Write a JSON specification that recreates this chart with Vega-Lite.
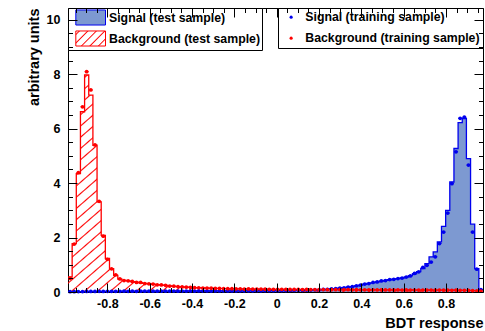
{
"$schema":"https://vega.github.io/schema/vega-lite/v6.json",
"width":415,"height":284,"autosize":"none",
"padding":{"left":68,"top":8,"right":2,"bottom":39},
"background":"#ffffff",
"config":{
 "view":{"stroke":"#000","strokeWidth":1},
 "axis":{"domain":false,"grid":false,"labelFont":"Liberation Sans","labelFontWeight":"bold","labelFontSize":12.5,"labelColor":"#000","tickColor":"#000","tickWidth":1,"titleFont":"Liberation Sans","titleFontWeight":"bold","titleFontSize":14.5,"titleColor":"#000"},
 "legend":{"labelFont":"Liberation Sans","labelFontWeight":"bold","labelFontSize":12.3,"labelColor":"#000","strokeColor":"#000","fillColor":"#fff","offset":0,"labelLimit":300}
},
"data":{"values":[
{"s":"S","lo":-0.986,"hi":-0.9664,"c":-0.9762,"v":0.008,"t":0.01},
{"s":"S","lo":-0.9664,"hi":-0.9468,"c":-0.9566,"v":0.012,"t":0.011},
{"s":"S","lo":-0.9468,"hi":-0.9272,"c":-0.937,"v":0.015,"t":0.016},
{"s":"S","lo":-0.9272,"hi":-0.9076,"c":-0.9174,"v":0.017,"t":0.015},
{"s":"S","lo":-0.9076,"hi":-0.888,"c":-0.8978,"v":0.018,"t":0.019},
{"s":"S","lo":-0.888,"hi":-0.8683,"c":-0.8782,"v":0.02,"t":0.021},
{"s":"S","lo":-0.8683,"hi":-0.8487,"c":-0.8585,"v":0.021,"t":0.02},
{"s":"S","lo":-0.8487,"hi":-0.8291,"c":-0.8389,"v":0.022,"t":0.023},
{"s":"S","lo":-0.8291,"hi":-0.8095,"c":-0.8193,"v":0.023,"t":0.022},
{"s":"S","lo":-0.8095,"hi":-0.7899,"c":-0.7997,"v":0.024,"t":0.025},
{"s":"S","lo":-0.7899,"hi":-0.7703,"c":-0.7801,"v":0.025,"t":0.024},
{"s":"S","lo":-0.7703,"hi":-0.7507,"c":-0.7605,"v":0.026,"t":0.027},
{"s":"S","lo":-0.7507,"hi":-0.7311,"c":-0.7409,"v":0.026,"t":0.025},
{"s":"S","lo":-0.7311,"hi":-0.7115,"c":-0.7213,"v":0.027,"t":0.028},
{"s":"S","lo":-0.7115,"hi":-0.6919,"c":-0.7017,"v":0.027,"t":0.026},
{"s":"S","lo":-0.6919,"hi":-0.6722,"c":-0.6821,"v":0.028,"t":0.029},
{"s":"S","lo":-0.6722,"hi":-0.6526,"c":-0.6624,"v":0.028,"t":0.027},
{"s":"S","lo":-0.6526,"hi":-0.633,"c":-0.6428,"v":0.029,"t":0.03},
{"s":"S","lo":-0.633,"hi":-0.6134,"c":-0.6232,"v":0.029,"t":0.028},
{"s":"S","lo":-0.6134,"hi":-0.5938,"c":-0.6036,"v":0.03,"t":0.031},
{"s":"S","lo":-0.5938,"hi":-0.5742,"c":-0.584,"v":0.03,"t":0.029},
{"s":"S","lo":-0.5742,"hi":-0.5546,"c":-0.5644,"v":0.031,"t":0.032},
{"s":"S","lo":-0.5546,"hi":-0.535,"c":-0.5448,"v":0.031,"t":0.03},
{"s":"S","lo":-0.535,"hi":-0.5154,"c":-0.5252,"v":0.032,"t":0.033},
{"s":"S","lo":-0.5154,"hi":-0.4958,"c":-0.5056,"v":0.032,"t":0.031},
{"s":"S","lo":-0.4958,"hi":-0.4761,"c":-0.486,"v":0.033,"t":0.034},
{"s":"S","lo":-0.4761,"hi":-0.4565,"c":-0.4663,"v":0.033,"t":0.032},
{"s":"S","lo":-0.4565,"hi":-0.4369,"c":-0.4467,"v":0.034,"t":0.035},
{"s":"S","lo":-0.4369,"hi":-0.4173,"c":-0.4271,"v":0.034,"t":0.033},
{"s":"S","lo":-0.4173,"hi":-0.3977,"c":-0.4075,"v":0.035,"t":0.036},
{"s":"S","lo":-0.3977,"hi":-0.3781,"c":-0.3879,"v":0.035,"t":0.034},
{"s":"S","lo":-0.3781,"hi":-0.3585,"c":-0.3683,"v":0.036,"t":0.037},
{"s":"S","lo":-0.3585,"hi":-0.3389,"c":-0.3487,"v":0.036,"t":0.035},
{"s":"S","lo":-0.3389,"hi":-0.3193,"c":-0.3291,"v":0.037,"t":0.038},
{"s":"S","lo":-0.3193,"hi":-0.2997,"c":-0.3095,"v":0.037,"t":0.036},
{"s":"S","lo":-0.2997,"hi":-0.28,"c":-0.2899,"v":0.038,"t":0.039},
{"s":"S","lo":-0.28,"hi":-0.2604,"c":-0.2702,"v":0.038,"t":0.037},
{"s":"S","lo":-0.2604,"hi":-0.2408,"c":-0.2506,"v":0.039,"t":0.04},
{"s":"S","lo":-0.2408,"hi":-0.2212,"c":-0.231,"v":0.039,"t":0.038},
{"s":"S","lo":-0.2212,"hi":-0.2016,"c":-0.2114,"v":0.04,"t":0.041},
{"s":"S","lo":-0.2016,"hi":-0.182,"c":-0.1918,"v":0.04,"t":0.039},
{"s":"S","lo":-0.182,"hi":-0.1624,"c":-0.1722,"v":0.041,"t":0.042},
{"s":"S","lo":-0.1624,"hi":-0.1428,"c":-0.1526,"v":0.042,"t":0.041},
{"s":"S","lo":-0.1428,"hi":-0.1232,"c":-0.133,"v":0.043,"t":0.044},
{"s":"S","lo":-0.1232,"hi":-0.1036,"c":-0.1134,"v":0.044,"t":0.043},
{"s":"S","lo":-0.1036,"hi":-0.0839,"c":-0.0938,"v":0.045,"t":0.046},
{"s":"S","lo":-0.0839,"hi":-0.0643,"c":-0.0741,"v":0.046,"t":0.045},
{"s":"S","lo":-0.0643,"hi":-0.0447,"c":-0.0545,"v":0.047,"t":0.048},
{"s":"S","lo":-0.0447,"hi":-0.0251,"c":-0.0349,"v":0.048,"t":0.047},
{"s":"S","lo":-0.0251,"hi":-0.0055,"c":-0.0153,"v":0.049,"t":0.05},
{"s":"S","lo":-0.0055,"hi":0.0141,"c":0.0043,"v":0.05,"t":0.049},
{"s":"S","lo":0.0141,"hi":0.0337,"c":0.0239,"v":0.052,"t":0.053},
{"s":"S","lo":0.0337,"hi":0.0533,"c":0.0435,"v":0.054,"t":0.053},
{"s":"S","lo":0.0533,"hi":0.0729,"c":0.0631,"v":0.056,"t":0.057},
{"s":"S","lo":0.0729,"hi":0.0925,"c":0.0827,"v":0.058,"t":0.057},
{"s":"S","lo":0.0925,"hi":0.1122,"c":0.1023,"v":0.061,"t":0.062},
{"s":"S","lo":0.1122,"hi":0.1318,"c":0.122,"v":0.064,"t":0.063},
{"s":"S","lo":0.1318,"hi":0.1514,"c":0.1416,"v":0.068,"t":0.069},
{"s":"S","lo":0.1514,"hi":0.171,"c":0.1612,"v":0.072,"t":0.071},
{"s":"S","lo":0.171,"hi":0.1906,"c":0.1808,"v":0.077,"t":0.079},
{"s":"S","lo":0.1906,"hi":0.2102,"c":0.2004,"v":0.083,"t":0.082},
{"s":"S","lo":0.2102,"hi":0.2298,"c":0.22,"v":0.09,"t":0.092},
{"s":"S","lo":0.2298,"hi":0.2494,"c":0.2396,"v":0.1,"t":0.098},
{"s":"S","lo":0.2494,"hi":0.269,"c":0.2592,"v":0.112,"t":0.114},
{"s":"S","lo":0.269,"hi":0.2886,"c":0.2788,"v":0.125,"t":0.123},
{"s":"S","lo":0.2886,"hi":0.3083,"c":0.2984,"v":0.14,"t":0.143},
{"s":"S","lo":0.3083,"hi":0.3279,"c":0.3181,"v":0.158,"t":0.155},
{"s":"S","lo":0.3279,"hi":0.3475,"c":0.3377,"v":0.178,"t":0.181},
{"s":"S","lo":0.3475,"hi":0.3671,"c":0.3573,"v":0.2,"t":0.197},
{"s":"S","lo":0.3671,"hi":0.3867,"c":0.3769,"v":0.225,"t":0.229},
{"s":"S","lo":0.3867,"hi":0.4063,"c":0.3965,"v":0.255,"t":0.25},
{"s":"S","lo":0.4063,"hi":0.4259,"c":0.4161,"v":0.285,"t":0.29},
{"s":"S","lo":0.4259,"hi":0.4455,"c":0.4357,"v":0.315,"t":0.31},
{"s":"S","lo":0.4455,"hi":0.4651,"c":0.4553,"v":0.345,"t":0.352},
{"s":"S","lo":0.4651,"hi":0.4848,"c":0.4749,"v":0.375,"t":0.37},
{"s":"S","lo":0.4848,"hi":0.5044,"c":0.4946,"v":0.4,"t":0.405},
{"s":"S","lo":0.5044,"hi":0.524,"c":0.5142,"v":0.425,"t":0.42},
{"s":"S","lo":0.524,"hi":0.5436,"c":0.5338,"v":0.45,"t":0.455},
{"s":"S","lo":0.5436,"hi":0.5632,"c":0.5534,"v":0.47,"t":0.465},
{"s":"S","lo":0.5632,"hi":0.5828,"c":0.573,"v":0.49,"t":0.495},
{"s":"S","lo":0.5828,"hi":0.6024,"c":0.5926,"v":0.515,"t":0.51},
{"s":"S","lo":0.6024,"hi":0.622,"c":0.6122,"v":0.545,"t":0.55},
{"s":"S","lo":0.622,"hi":0.6416,"c":0.6318,"v":0.6,"t":0.59},
{"s":"S","lo":0.6416,"hi":0.6612,"c":0.6514,"v":0.67,"t":0.68},
{"s":"S","lo":0.6612,"hi":0.6809,"c":0.671,"v":0.75,"t":0.74},
{"s":"S","lo":0.6809,"hi":0.7005,"c":0.6907,"v":0.86,"t":0.9},
{"s":"S","lo":0.7005,"hi":0.7201,"c":0.7103,"v":1.04,"t":0.98},
{"s":"S","lo":0.7201,"hi":0.7397,"c":0.7299,"v":1.29,"t":1.1},
{"s":"S","lo":0.7397,"hi":0.7593,"c":0.7495,"v":1.47,"t":1.29},
{"s":"S","lo":0.7593,"hi":0.7789,"c":0.7691,"v":1.84,"t":1.78},
{"s":"S","lo":0.7789,"hi":0.7985,"c":0.7887,"v":2.41,"t":2.2},
{"s":"S","lo":0.7985,"hi":0.8181,"c":0.8083,"v":3.0,"t":2.9},
{"s":"S","lo":0.8181,"hi":0.8377,"c":0.8279,"v":4.04,"t":3.98},
{"s":"S","lo":0.8377,"hi":0.8573,"c":0.8475,"v":5.27,"t":5.15},
{"s":"S","lo":0.8573,"hi":0.877,"c":0.8671,"v":6.22,"t":6.38},
{"s":"S","lo":0.877,"hi":0.8966,"c":0.8868,"v":6.37,"t":6.42},
{"s":"S","lo":0.8966,"hi":0.9162,"c":0.9064,"v":4.9,"t":4.66},
{"s":"S","lo":0.9162,"hi":0.9358,"c":0.926,"v":2.49,"t":2.2},
{"s":"S","lo":0.9358,"hi":0.9554,"c":0.9456,"v":0.86,"t":0.84},
{"s":"S","lo":0.9554,"hi":0.975,"c":0.9652,"v":0.1,"t":0.09},
{"s":"B","lo":-0.986,"hi":-0.9664,"c":-0.9762,"v":0.55,"t":0.5},
{"s":"B","lo":-0.9664,"hi":-0.9468,"c":-0.9566,"v":1.78,"t":1.76},
{"s":"B","lo":-0.9468,"hi":-0.9272,"c":-0.937,"v":4.35,"t":4.38},
{"s":"B","lo":-0.9272,"hi":-0.9076,"c":-0.9174,"v":6.62,"t":6.8},
{"s":"B","lo":-0.9076,"hi":-0.888,"c":-0.8978,"v":7.97,"t":8.09},
{"s":"B","lo":-0.888,"hi":-0.8683,"c":-0.8782,"v":7.23,"t":7.42},
{"s":"B","lo":-0.8683,"hi":-0.8487,"c":-0.8585,"v":5.39,"t":5.4},
{"s":"B","lo":-0.8487,"hi":-0.8291,"c":-0.8389,"v":3.31,"t":3.33},
{"s":"B","lo":-0.8291,"hi":-0.8095,"c":-0.8193,"v":2.08,"t":2.05},
{"s":"B","lo":-0.8095,"hi":-0.7899,"c":-0.7997,"v":1.23,"t":1.2},
{"s":"B","lo":-0.7899,"hi":-0.7703,"c":-0.7801,"v":0.86,"t":0.85},
{"s":"B","lo":-0.7703,"hi":-0.7507,"c":-0.7605,"v":0.61,"t":0.63},
{"s":"B","lo":-0.7507,"hi":-0.7311,"c":-0.7409,"v":0.47,"t":0.48},
{"s":"B","lo":-0.7311,"hi":-0.7115,"c":-0.7213,"v":0.43,"t":0.42},
{"s":"B","lo":-0.7115,"hi":-0.6919,"c":-0.7017,"v":0.41,"t":0.41},
{"s":"B","lo":-0.6919,"hi":-0.6722,"c":-0.6821,"v":0.38,"t":0.39},
{"s":"B","lo":-0.6722,"hi":-0.6526,"c":-0.6624,"v":0.36,"t":0.35},
{"s":"B","lo":-0.6526,"hi":-0.633,"c":-0.6428,"v":0.34,"t":0.35},
{"s":"B","lo":-0.633,"hi":-0.6134,"c":-0.6232,"v":0.32,"t":0.31},
{"s":"B","lo":-0.6134,"hi":-0.5938,"c":-0.6036,"v":0.3,"t":0.3},
{"s":"B","lo":-0.5938,"hi":-0.5742,"c":-0.584,"v":0.285,"t":0.29},
{"s":"B","lo":-0.5742,"hi":-0.5546,"c":-0.5644,"v":0.27,"t":0.265},
{"s":"B","lo":-0.5546,"hi":-0.535,"c":-0.5448,"v":0.255,"t":0.26},
{"s":"B","lo":-0.535,"hi":-0.5154,"c":-0.5252,"v":0.24,"t":0.245},
{"s":"B","lo":-0.5154,"hi":-0.4958,"c":-0.5056,"v":0.225,"t":0.22},
{"s":"B","lo":-0.4958,"hi":-0.4761,"c":-0.486,"v":0.21,"t":0.215},
{"s":"B","lo":-0.4761,"hi":-0.4565,"c":-0.4663,"v":0.2,"t":0.198},
{"s":"B","lo":-0.4565,"hi":-0.4369,"c":-0.4467,"v":0.19,"t":0.185},
{"s":"B","lo":-0.4369,"hi":-0.4173,"c":-0.4271,"v":0.18,"t":0.178},
{"s":"B","lo":-0.4173,"hi":-0.3977,"c":-0.4075,"v":0.17,"t":0.172},
{"s":"B","lo":-0.3977,"hi":-0.3781,"c":-0.3879,"v":0.162,"t":0.16},
{"s":"B","lo":-0.3781,"hi":-0.3585,"c":-0.3683,"v":0.155,"t":0.156},
{"s":"B","lo":-0.3585,"hi":-0.3389,"c":-0.3487,"v":0.15,"t":0.147},
{"s":"B","lo":-0.3389,"hi":-0.3193,"c":-0.3291,"v":0.145,"t":0.146},
{"s":"B","lo":-0.3193,"hi":-0.2997,"c":-0.3095,"v":0.14,"t":0.138},
{"s":"B","lo":-0.2997,"hi":-0.28,"c":-0.2899,"v":0.135,"t":0.136},
{"s":"B","lo":-0.28,"hi":-0.2604,"c":-0.2702,"v":0.131,"t":0.129},
{"s":"B","lo":-0.2604,"hi":-0.2408,"c":-0.2506,"v":0.127,"t":0.128},
{"s":"B","lo":-0.2408,"hi":-0.2212,"c":-0.231,"v":0.124,"t":0.122},
{"s":"B","lo":-0.2212,"hi":-0.2016,"c":-0.2114,"v":0.12,"t":0.121},
{"s":"B","lo":-0.2016,"hi":-0.182,"c":-0.1918,"v":0.117,"t":0.115},
{"s":"B","lo":-0.182,"hi":-0.1624,"c":-0.1722,"v":0.114,"t":0.116},
{"s":"B","lo":-0.1624,"hi":-0.1428,"c":-0.1526,"v":0.112,"t":0.11},
{"s":"B","lo":-0.1428,"hi":-0.1232,"c":-0.133,"v":0.11,"t":0.111},
{"s":"B","lo":-0.1232,"hi":-0.1036,"c":-0.1134,"v":0.108,"t":0.106},
{"s":"B","lo":-0.1036,"hi":-0.0839,"c":-0.0938,"v":0.106,"t":0.107},
{"s":"B","lo":-0.0839,"hi":-0.0643,"c":-0.0741,"v":0.104,"t":0.103},
{"s":"B","lo":-0.0643,"hi":-0.0447,"c":-0.0545,"v":0.102,"t":0.104},
{"s":"B","lo":-0.0447,"hi":-0.0251,"c":-0.0349,"v":0.1,"t":0.099},
{"s":"B","lo":-0.0251,"hi":-0.0055,"c":-0.0153,"v":0.099,"t":0.1},
{"s":"B","lo":-0.0055,"hi":0.0141,"c":0.0043,"v":0.098,"t":0.096},
{"s":"B","lo":0.0141,"hi":0.0337,"c":0.0239,"v":0.097,"t":0.098},
{"s":"B","lo":0.0337,"hi":0.0533,"c":0.0435,"v":0.096,"t":0.095},
{"s":"B","lo":0.0533,"hi":0.0729,"c":0.0631,"v":0.095,"t":0.096},
{"s":"B","lo":0.0729,"hi":0.0925,"c":0.0827,"v":0.094,"t":0.093},
{"s":"B","lo":0.0925,"hi":0.1122,"c":0.1023,"v":0.093,"t":0.094},
{"s":"B","lo":0.1122,"hi":0.1318,"c":0.122,"v":0.092,"t":0.09},
{"s":"B","lo":0.1318,"hi":0.1514,"c":0.1416,"v":0.091,"t":0.092},
{"s":"B","lo":0.1514,"hi":0.171,"c":0.1612,"v":0.09,"t":0.089},
{"s":"B","lo":0.171,"hi":0.1906,"c":0.1808,"v":0.09,"t":0.091},
{"s":"B","lo":0.1906,"hi":0.2102,"c":0.2004,"v":0.089,"t":0.088},
{"s":"B","lo":0.2102,"hi":0.2298,"c":0.22,"v":0.088,"t":0.089},
{"s":"B","lo":0.2298,"hi":0.2494,"c":0.2396,"v":0.087,"t":0.086},
{"s":"B","lo":0.2494,"hi":0.269,"c":0.2592,"v":0.086,"t":0.087},
{"s":"B","lo":0.269,"hi":0.2886,"c":0.2788,"v":0.086,"t":0.085},
{"s":"B","lo":0.2886,"hi":0.3083,"c":0.2984,"v":0.085,"t":0.086},
{"s":"B","lo":0.3083,"hi":0.3279,"c":0.3181,"v":0.084,"t":0.083},
{"s":"B","lo":0.3279,"hi":0.3475,"c":0.3377,"v":0.083,"t":0.084},
{"s":"B","lo":0.3475,"hi":0.3671,"c":0.3573,"v":0.083,"t":0.082},
{"s":"B","lo":0.3671,"hi":0.3867,"c":0.3769,"v":0.082,"t":0.083},
{"s":"B","lo":0.3867,"hi":0.4063,"c":0.3965,"v":0.081,"t":0.08},
{"s":"B","lo":0.4063,"hi":0.4259,"c":0.4161,"v":0.08,"t":0.081},
{"s":"B","lo":0.4259,"hi":0.4455,"c":0.4357,"v":0.08,"t":0.079},
{"s":"B","lo":0.4455,"hi":0.4651,"c":0.4553,"v":0.079,"t":0.08},
{"s":"B","lo":0.4651,"hi":0.4848,"c":0.4749,"v":0.078,"t":0.077},
{"s":"B","lo":0.4848,"hi":0.5044,"c":0.4946,"v":0.078,"t":0.079},
{"s":"B","lo":0.5044,"hi":0.524,"c":0.5142,"v":0.077,"t":0.076},
{"s":"B","lo":0.524,"hi":0.5436,"c":0.5338,"v":0.076,"t":0.077},
{"s":"B","lo":0.5436,"hi":0.5632,"c":0.5534,"v":0.076,"t":0.075},
{"s":"B","lo":0.5632,"hi":0.5828,"c":0.573,"v":0.075,"t":0.076},
{"s":"B","lo":0.5828,"hi":0.6024,"c":0.5926,"v":0.074,"t":0.073},
{"s":"B","lo":0.6024,"hi":0.622,"c":0.6122,"v":0.074,"t":0.075},
{"s":"B","lo":0.622,"hi":0.6416,"c":0.6318,"v":0.073,"t":0.072},
{"s":"B","lo":0.6416,"hi":0.6612,"c":0.6514,"v":0.072,"t":0.073},
{"s":"B","lo":0.6612,"hi":0.6809,"c":0.671,"v":0.072,"t":0.071},
{"s":"B","lo":0.6809,"hi":0.7005,"c":0.6907,"v":0.071,"t":0.072},
{"s":"B","lo":0.7005,"hi":0.7201,"c":0.7103,"v":0.07,"t":0.069},
{"s":"B","lo":0.7201,"hi":0.7397,"c":0.7299,"v":0.07,"t":0.071},
{"s":"B","lo":0.7397,"hi":0.7593,"c":0.7495,"v":0.069,"t":0.068},
{"s":"B","lo":0.7593,"hi":0.7789,"c":0.7691,"v":0.068,"t":0.069},
{"s":"B","lo":0.7789,"hi":0.7985,"c":0.7887,"v":0.067,"t":0.066},
{"s":"B","lo":0.7985,"hi":0.8181,"c":0.8083,"v":0.066,"t":0.067},
{"s":"B","lo":0.8181,"hi":0.8377,"c":0.8279,"v":0.065,"t":0.064},
{"s":"B","lo":0.8377,"hi":0.8573,"c":0.8475,"v":0.064,"t":0.065},
{"s":"B","lo":0.8573,"hi":0.877,"c":0.8671,"v":0.062,"t":0.061},
{"s":"B","lo":0.877,"hi":0.8966,"c":0.8868,"v":0.06,"t":0.061},
{"s":"B","lo":0.8966,"hi":0.9162,"c":0.9064,"v":0.057,"t":0.056},
{"s":"B","lo":0.9162,"hi":0.9358,"c":0.926,"v":0.053,"t":0.054},
{"s":"B","lo":0.9358,"hi":0.9554,"c":0.9456,"v":0.047,"t":0.046},
{"s":"B","lo":0.9554,"hi":0.975,"c":0.9652,"v":0.035,"t":0.036}
]},
"resolve":{"axis":{"x":"independent","y":"independent"}},
"layer":[
{"transform":[{"filter":"datum.s === 'S'"}],
 "mark":{"type":"area","interpolate":"step-after","fill":"#7d99d1"},
 "encoding":{
  "x":{"field":"lo","type":"quantitative","scale":{"domain":[-0.986,0.975],"nice":false,"zero":false},
   "axis":{"orient":"bottom","values":[-0.8,-0.6,-0.4,-0.2,0,0.2,0.4,0.6,0.8],"ticks":false,"labelExpr":"toString(datum.value)","labelPadding":5,"labelFlush":false,"title":"BDT response","titleAnchor":"end","titlePadding":7,"zindex":1}},
  "y":{"field":"v","type":"quantitative","stack":null,"scale":{"domain":[0,10.43],"nice":false,"zero":true},
   "axis":{"orient":"left","values":[0,2,4,6,8,10],"ticks":false,"labelPadding":8,"title":"arbitrary units","titleAnchor":"end","titlePadding":5,"zindex":1}}
 }},
{"transform":[{"filter":"datum.s === 'B'"}],
 "mark":{"type":"area","interpolate":"step-after","fill":{"gradient":"linear","x1":0,"y1":0,"x2":1.174,"y2":0.713,"stops":[
{"offset":0.0073,"color":"rgba(255,0,0,0)"},{"offset":0.0098,"color":"#ff0000"},{"offset":0.0123,"color":"rgba(255,0,0,0)"},
{"offset":0.0269,"color":"rgba(255,0,0,0)"},{"offset":0.0294,"color":"#ff0000"},{"offset":0.0319,"color":"rgba(255,0,0,0)"},
{"offset":0.0465,"color":"rgba(255,0,0,0)"},{"offset":0.049,"color":"#ff0000"},{"offset":0.0515,"color":"rgba(255,0,0,0)"},
{"offset":0.0661,"color":"rgba(255,0,0,0)"},{"offset":0.0686,"color":"#ff0000"},{"offset":0.0711,"color":"rgba(255,0,0,0)"},
{"offset":0.0857,"color":"rgba(255,0,0,0)"},{"offset":0.0882,"color":"#ff0000"},{"offset":0.0907,"color":"rgba(255,0,0,0)"},
{"offset":0.1053,"color":"rgba(255,0,0,0)"},{"offset":0.1078,"color":"#ff0000"},{"offset":0.1103,"color":"rgba(255,0,0,0)"},
{"offset":0.1249,"color":"rgba(255,0,0,0)"},{"offset":0.1274,"color":"#ff0000"},{"offset":0.1299,"color":"rgba(255,0,0,0)"},
{"offset":0.1445,"color":"rgba(255,0,0,0)"},{"offset":0.147,"color":"#ff0000"},{"offset":0.1495,"color":"rgba(255,0,0,0)"},
{"offset":0.1641,"color":"rgba(255,0,0,0)"},{"offset":0.1666,"color":"#ff0000"},{"offset":0.1691,"color":"rgba(255,0,0,0)"},
{"offset":0.1837,"color":"rgba(255,0,0,0)"},{"offset":0.1862,"color":"#ff0000"},{"offset":0.1887,"color":"rgba(255,0,0,0)"},
{"offset":0.2033,"color":"rgba(255,0,0,0)"},{"offset":0.2058,"color":"#ff0000"},{"offset":0.2083,"color":"rgba(255,0,0,0)"},
{"offset":0.2229,"color":"rgba(255,0,0,0)"},{"offset":0.2254,"color":"#ff0000"},{"offset":0.2279,"color":"rgba(255,0,0,0)"},
{"offset":0.2425,"color":"rgba(255,0,0,0)"},{"offset":0.245,"color":"#ff0000"},{"offset":0.2475,"color":"rgba(255,0,0,0)"},
{"offset":0.2621,"color":"rgba(255,0,0,0)"},{"offset":0.2646,"color":"#ff0000"},{"offset":0.2671,"color":"rgba(255,0,0,0)"},
{"offset":0.2817,"color":"rgba(255,0,0,0)"},{"offset":0.2842,"color":"#ff0000"},{"offset":0.2867,"color":"rgba(255,0,0,0)"},
{"offset":0.3013,"color":"rgba(255,0,0,0)"},{"offset":0.3038,"color":"#ff0000"},{"offset":0.3063,"color":"rgba(255,0,0,0)"},
{"offset":0.3209,"color":"rgba(255,0,0,0)"},{"offset":0.3234,"color":"#ff0000"},{"offset":0.3259,"color":"rgba(255,0,0,0)"},
{"offset":0.3405,"color":"rgba(255,0,0,0)"},{"offset":0.343,"color":"#ff0000"},{"offset":0.3455,"color":"rgba(255,0,0,0)"},
{"offset":0.3601,"color":"rgba(255,0,0,0)"},{"offset":0.3626,"color":"#ff0000"},{"offset":0.3651,"color":"rgba(255,0,0,0)"},
{"offset":0.3797,"color":"rgba(255,0,0,0)"},{"offset":0.3822,"color":"#ff0000"},{"offset":0.3847,"color":"rgba(255,0,0,0)"},
{"offset":0.3993,"color":"rgba(255,0,0,0)"},{"offset":0.4018,"color":"#ff0000"},{"offset":0.4043,"color":"rgba(255,0,0,0)"},
{"offset":0.4189,"color":"rgba(255,0,0,0)"},{"offset":0.4214,"color":"#ff0000"},{"offset":0.4239,"color":"rgba(255,0,0,0)"},
{"offset":0.4385,"color":"rgba(255,0,0,0)"},{"offset":0.441,"color":"#ff0000"},{"offset":0.4435,"color":"rgba(255,0,0,0)"},
{"offset":0.4581,"color":"rgba(255,0,0,0)"},{"offset":0.4606,"color":"#ff0000"},{"offset":0.4631,"color":"rgba(255,0,0,0)"},
{"offset":0.4777,"color":"rgba(255,0,0,0)"},{"offset":0.4802,"color":"#ff0000"},{"offset":0.4827,"color":"rgba(255,0,0,0)"},
{"offset":0.4973,"color":"rgba(255,0,0,0)"},{"offset":0.4998,"color":"#ff0000"},{"offset":0.5023,"color":"rgba(255,0,0,0)"},
{"offset":0.5169,"color":"rgba(255,0,0,0)"},{"offset":0.5194,"color":"#ff0000"},{"offset":0.5219,"color":"rgba(255,0,0,0)"},
{"offset":0.5365,"color":"rgba(255,0,0,0)"},{"offset":0.539,"color":"#ff0000"},{"offset":0.5415,"color":"rgba(255,0,0,0)"},
{"offset":0.5561,"color":"rgba(255,0,0,0)"},{"offset":0.5586,"color":"#ff0000"},{"offset":0.5611,"color":"rgba(255,0,0,0)"},
{"offset":0.5757,"color":"rgba(255,0,0,0)"},{"offset":0.5782,"color":"#ff0000"},{"offset":0.5807,"color":"rgba(255,0,0,0)"},
{"offset":0.5953,"color":"rgba(255,0,0,0)"},{"offset":0.5978,"color":"#ff0000"},{"offset":0.6003,"color":"rgba(255,0,0,0)"},
{"offset":0.6149,"color":"rgba(255,0,0,0)"},{"offset":0.6174,"color":"#ff0000"},{"offset":0.6199,"color":"rgba(255,0,0,0)"},
{"offset":0.6345,"color":"rgba(255,0,0,0)"},{"offset":0.637,"color":"#ff0000"},{"offset":0.6395,"color":"rgba(255,0,0,0)"},
{"offset":0.6541,"color":"rgba(255,0,0,0)"},{"offset":0.6566,"color":"#ff0000"},{"offset":0.6591,"color":"rgba(255,0,0,0)"},
{"offset":0.6737,"color":"rgba(255,0,0,0)"},{"offset":0.6762,"color":"#ff0000"},{"offset":0.6787,"color":"rgba(255,0,0,0)"},
{"offset":0.6933,"color":"rgba(255,0,0,0)"},{"offset":0.6958,"color":"#ff0000"},{"offset":0.6983,"color":"rgba(255,0,0,0)"},
{"offset":0.7129,"color":"rgba(255,0,0,0)"},{"offset":0.7154,"color":"#ff0000"},{"offset":0.7179,"color":"rgba(255,0,0,0)"},
{"offset":0.7325,"color":"rgba(255,0,0,0)"},{"offset":0.735,"color":"#ff0000"},{"offset":0.7375,"color":"rgba(255,0,0,0)"},
{"offset":0.7521,"color":"rgba(255,0,0,0)"},{"offset":0.7546,"color":"#ff0000"},{"offset":0.7571,"color":"rgba(255,0,0,0)"},
{"offset":0.7717,"color":"rgba(255,0,0,0)"},{"offset":0.7742,"color":"#ff0000"},{"offset":0.7767,"color":"rgba(255,0,0,0)"},
{"offset":0.7913,"color":"rgba(255,0,0,0)"},{"offset":0.7938,"color":"#ff0000"},{"offset":0.7963,"color":"rgba(255,0,0,0)"},
{"offset":0.8109,"color":"rgba(255,0,0,0)"},{"offset":0.8134,"color":"#ff0000"},{"offset":0.8159,"color":"rgba(255,0,0,0)"},
{"offset":0.8305,"color":"rgba(255,0,0,0)"},{"offset":0.833,"color":"#ff0000"},{"offset":0.8355,"color":"rgba(255,0,0,0)"},
{"offset":0.8501,"color":"rgba(255,0,0,0)"},{"offset":0.8526,"color":"#ff0000"},{"offset":0.8551,"color":"rgba(255,0,0,0)"},
{"offset":0.8697,"color":"rgba(255,0,0,0)"},{"offset":0.8722,"color":"#ff0000"},{"offset":0.8747,"color":"rgba(255,0,0,0)"},
{"offset":0.8893,"color":"rgba(255,0,0,0)"},{"offset":0.8918,"color":"#ff0000"},{"offset":0.8943,"color":"rgba(255,0,0,0)"},
{"offset":0.9089,"color":"rgba(255,0,0,0)"},{"offset":0.9114,"color":"#ff0000"},{"offset":0.9139,"color":"rgba(255,0,0,0)"},
{"offset":0.9285,"color":"rgba(255,0,0,0)"},{"offset":0.931,"color":"#ff0000"},{"offset":0.9335,"color":"rgba(255,0,0,0)"},
{"offset":0.9481,"color":"rgba(255,0,0,0)"},{"offset":0.9506,"color":"#ff0000"},{"offset":0.9531,"color":"rgba(255,0,0,0)"},
{"offset":0.9677,"color":"rgba(255,0,0,0)"},{"offset":0.9702,"color":"#ff0000"},{"offset":0.9727,"color":"rgba(255,0,0,0)"},
{"offset":0.9873,"color":"rgba(255,0,0,0)"},{"offset":0.9898,"color":"#ff0000"},{"offset":0.9923,"color":"rgba(255,0,0,0)"}
 ]}},
 "encoding":{
  "x":{"field":"lo","type":"quantitative","axis":{"orient":"bottom","values":[-0.8,-0.6,-0.4,-0.2,0,0.2,0.4,0.6,0.8],"labels":false,"tickSize":-9,"title":null,"zindex":2}},
  "y":{"field":"v","type":"quantitative","stack":null,"axis":{"orient":"left","values":[0,2,4,6,8,10],"labels":false,"tickSize":-9,"title":null,"zindex":2}}
 }},
{"mark":{"type":"line","interpolate":"step-after","strokeWidth":1.3},
 "encoding":{
  "x":{"field":"lo","type":"quantitative","axis":{"orient":"bottom","values":[-0.95,-0.9,-0.85,-0.75,-0.7,-0.65,-0.55,-0.5,-0.45,-0.35,-0.3,-0.25,-0.15,-0.1,-0.05,0.05,0.1,0.15,0.25,0.3,0.35,0.45,0.5,0.55,0.65,0.7,0.75,0.85,0.9,0.95],"labels":false,"tickSize":-4.5,"title":null,"zindex":2}},
  "y":{"field":"v","type":"quantitative","stack":null,"axis":{"orient":"left","values":[0.5,1,1.5,2.5,3,3.5,4.5,5,5.5,6.5,7,7.5,8.5,9,9.5],"labels":false,"tickSize":-4.5,"title":null,"zindex":2}},
  "stroke":{"field":"s","type":"nominal","scale":{"domain":["S","B"],"range":["#0000ee","#ff0000"]},
   "legend":{"title":null,"orient":"top-left","offset":0,"padding":1,"direction":"vertical","symbolType":"M-0.71,-0.94H3V0.94H-0.71Z","symbolSize":256,"symbolStrokeWidth":1,"symbolOffset":4,"labelOffset":19,"rowPadding":0,
    "labelExpr":"datum.value === 'S' ? 'Signal (test sample)' : 'Background (test sample)'",
    "encoding":{"symbols":{"fill":{"condition":{"test":"datum.value === 'B'","value":{"gradient":"linear","x1":0,"y1":0,"x2":1.199,"y2":0.606,"stops":[
{"offset":0.05,"color":"rgba(255,0,0,0)"},{"offset":0.08,"color":"#ff0000"},{"offset":0.11,"color":"rgba(255,0,0,0)"},
{"offset":0.24,"color":"rgba(255,0,0,0)"},{"offset":0.27,"color":"#ff0000"},{"offset":0.3,"color":"rgba(255,0,0,0)"},
{"offset":0.43,"color":"rgba(255,0,0,0)"},{"offset":0.46,"color":"#ff0000"},{"offset":0.49,"color":"rgba(255,0,0,0)"},
{"offset":0.62,"color":"rgba(255,0,0,0)"},{"offset":0.65,"color":"#ff0000"},{"offset":0.68,"color":"rgba(255,0,0,0)"},
{"offset":0.81,"color":"rgba(255,0,0,0)"},{"offset":0.84,"color":"#ff0000"},{"offset":0.87,"color":"rgba(255,0,0,0)"}
    ]}},"value":"#7d99d1"},"opacity":{"value":1}}}}}
 }},
{"transform":[{"filter":"datum.s === 'S'"}],
 "mark":{"type":"rule","color":"#0000ee","strokeWidth":1},
 "encoding":{
  "x":{"field":"lo","type":"quantitative","axis":{"orient":"top","values":[-0.8,-0.6,-0.4,-0.2,0,0.2,0.4,0.6,0.8],"labels":false,"tickSize":-9,"title":null,"zindex":2}},
  "x2":{"field":"hi"},
  "y":{"field":"t","type":"quantitative","axis":{"orient":"right","values":[0,2,4,6,8,10],"labels":false,"tickSize":-9,"title":null,"zindex":2}}
 }},
{"transform":[{"filter":"datum.s === 'B'"}],
 "mark":{"type":"rule","color":"#ff0000","strokeWidth":1},
 "encoding":{
  "x":{"field":"lo","type":"quantitative","axis":{"orient":"top","values":[-0.95,-0.9,-0.85,-0.75,-0.7,-0.65,-0.55,-0.5,-0.45,-0.35,-0.3,-0.25,-0.15,-0.1,-0.05,0.05,0.1,0.15,0.25,0.3,0.35,0.45,0.5,0.55,0.65,0.7,0.75,0.85,0.9,0.95],"labels":false,"tickSize":-4.5,"title":null,"zindex":2}},
  "x2":{"field":"hi"},
  "y":{"field":"t","type":"quantitative","axis":{"orient":"right","values":[0.5,1,1.5,2.5,3,3.5,4.5,5,5.5,6.5,7,7.5,8.5,9,9.5],"labels":false,"tickSize":-4.5,"title":null,"zindex":2}}
 }},
{"mark":{"type":"point","filled":true,"size":14,"opacity":1},
 "encoding":{
  "x":{"field":"c","type":"quantitative","axis":null},
  "y":{"field":"t","type":"quantitative","axis":null},
  "color":{"field":"s","type":"nominal","scale":{"domain":["S","B"],"range":["#0000ee","#ff0000"]},
   "legend":{"title":null,"orient":"top-right","offset":0,"padding":3,"direction":"vertical","symbolType":"circle","symbolSize":10,"symbolOffset":4,"labelOffset":8,"rowPadding":8,
    "labelExpr":"datum.value === 'S' ? 'Signal (training sample)' : 'Background (training sample)'"}}
 }}
]
}
